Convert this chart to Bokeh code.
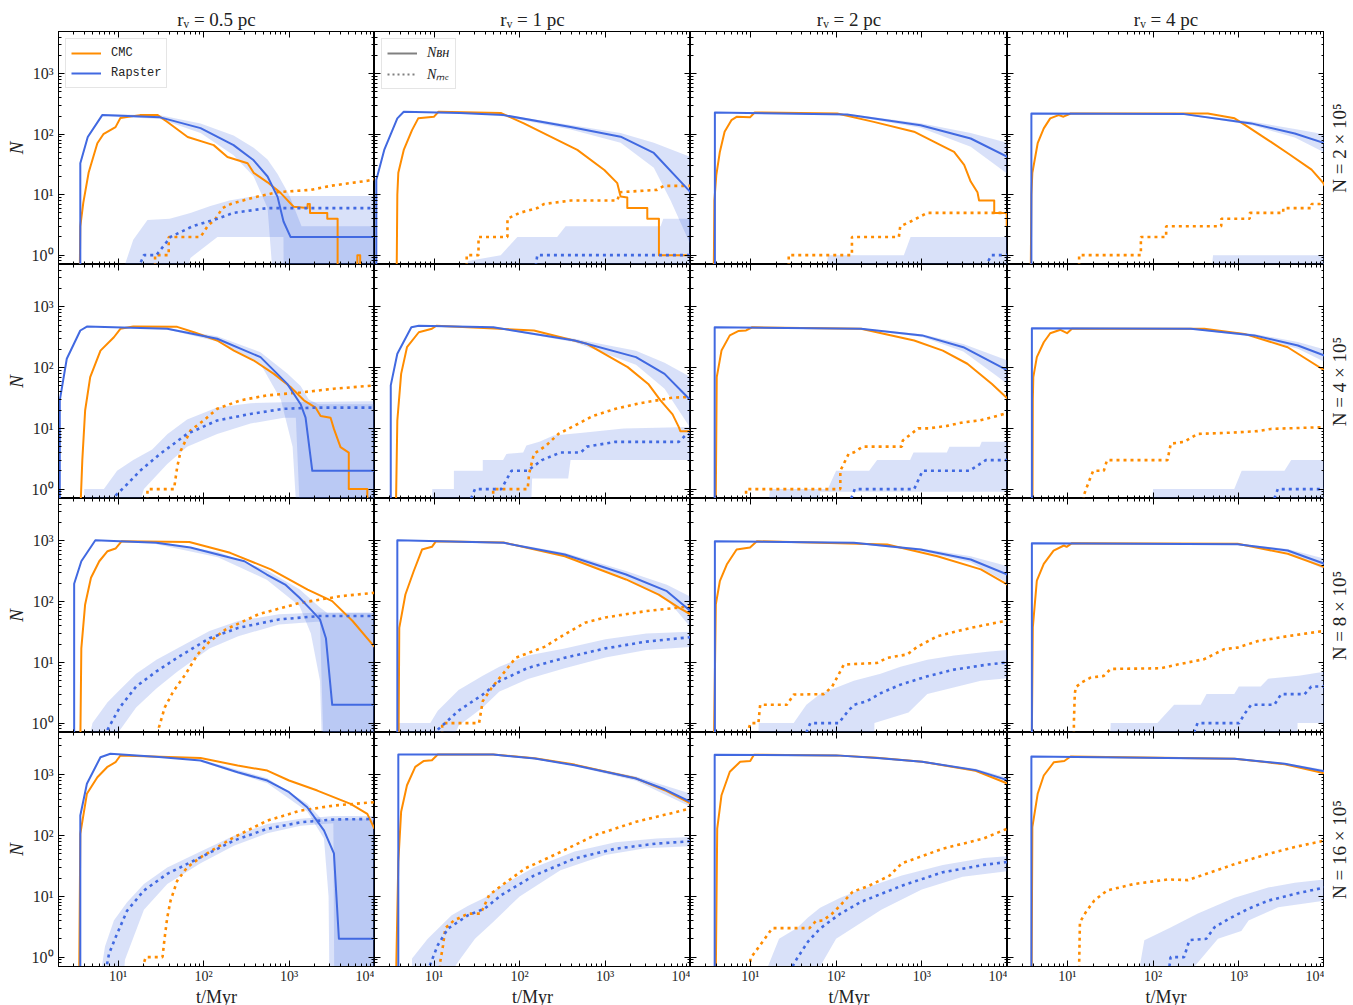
import math
from bokeh.plotting import figure
from bokeh.layouts import gridplot
from bokeh.models import LogAxis, FixedTicker, CustomJSTickFormatter, Legend, LegendItem, Label
from bokeh.embed import file_html
from bokeh.resources import INLINE

ORANGE = "#ff8c00"
BLUE = "#4169e1"
SERIF = "Liberation Serif"

col_rv = ["0.5", "1", "2", "4"]
row_N = ["2", "4", "8", "16"]
X_MAJOR = [10, 100, 1000, 10000]
X_MINOR = [k * 10 ** e for e in range(0, 4) for k in range(2, 10)]
Y_MAJOR = [1, 10, 100, 1000]
Y_MINOR = [k * 10.0 ** e for e in range(-1, 4) for k in range(2, 10) if 0.7 <= k * 10.0 ** e <= 5000]
X_RANGE = (2, 1e4)
Y_RANGE = (0.7, 5000)

# ---------------- data: (t [Myr], N) ----------------
# row 1 : N = 2e5
cmc_bh_11 = [(3.5,0.1),(3.6,3),(3.9,7.3),(4.5,23),(5.7,71),(6.7,100),(9.3,131),(10.6,185),(18,207),(29,207),(38,158),(65,90),(131,66),(190,42),(327,33),(385,23),(560,16),(795,10.7),(1130,6.3),(1640,6),(1650,7),(1750,7),(1760,5),(2800,5),(2800,4),(3700,4),(3700,0.1),(6300,0.1),(6300,1),(6800,1),(6800,0.1)]
cmc_me_11 = [(27,0.1),(27,1),(39,1),(39,2),(92,2),(111,3),(138,4),(166,6),(207,7),(385,9),(733,11),(1790,12),(3060,14),(8300,17),(10000,18)]
rap_bh_11 = [(3.6,0.1),(3.6,33),(4.4,90),(6.5,207),(31,190),(92,126),(224,66),(385,37),(560,20),(733,9.2),(861,3.6),(1040,2),(10000,2)]
rap_me_11 = [(17,0.6),(20,1),(28,1),(41,2),(74,3),(145,4),(224,5),(560,6),(10000,6)]
bh_up_11 = [(3.6,35),(4.4,95),(6.5,215),(31,205),(92,150),(224,95),(385,60),(560,38),(733,22),(1000,10),(1400,3),(10000,3)]
bh_lo_11 = [(3.6,30),(4.4,85),(6.5,200),(31,178),(92,105),(224,45),(385,20),(560,6),(700,0.1),(10000,0.1)]
me_up_11 = [(10.6,0.1),(12,0.7),(15,1.8),(22,3.8),(40,4),(70,5),(120,6.5),(200,8),(400,9.5),(10000,9.5)]
me_lo_11 = [(10.6,0.1),(50,0.1),(70,0.9),(145,2),(860,2),(870,0.1),(10000,0.1)]

cmc_bh_12 = [(3.6,0.1),(3.7,10),(3.8,23),(4.4,55),(5.5,117),(6.5,183),(9.9,194),(11.2,235),(60,225),(112,151),(230,91),(473,55),(980,25.6),(1390,15.5),(1520,9.3),(1820,9),(1820,6),(3120,6),(3120,4),(4270,4),(4270,1),(10000,1)]
cmc_me_12 = [(24,0.1),(24,1),(33,1),(33,2),(72,2),(72,4),(100,5),(161,6),(192,7),(395,8),(1390,8),(1500,11),(4070,12),(4900,14),(10000,14)]
rap_bh_12 = [(2.1,0.1),(2.1,17.5),(2.6,55),(3.7,183),(4.4,235),(20,225),(65,207),(395,132),(1520,91),(3720,49),(10000,11)]
rap_me_12 = [(150,0.5),(161,1),(10000,1)]
bh_up_12 = [(60,215),(395,142),(1520,105),(3720,72),(10000,42)]
bh_lo_12 = [(60,200),(395,120),(1520,72),(3720,28),(5850,8),(10000,1.5)]
me_up_12 = [(14,0.1),(25,0.8),(60,1),(94,2),(275,2),(345,3),(4470,3),(4800,4),(10000,4)]
me_lo_12 = [(14,0.1),(10000,0.1)]

cmc_bh_13 = [(3.7,0.1),(3.8,8),(4,21),(4.4,51),(5,110),(6,171),(6.9,194),(9.9,190),(11.2,229),(103,220),(275,160),(811,110),(1660,66),(2380,51),(3120,31),(3720,16.5),(4460,11),(4660,8),(7000,8),(7000,5),(9800,5),(9800,3),(10000,3)]
cmc_me_13 = [(28,0.1),(28,1),(153,1),(153,2),(540,2),(560,3),(740,3.6),(1160,5),(10000,5)]
rap_bh_13 = [(3.85,0.1),(3.85,229),(134,212),(968,141),(3720,85),(10000,42)]
rap_me_13 = [(5000,0.5),(6500,1),(10000,1)]
bh_up_13 = [(134,218),(968,152),(3720,105),(10000,72)]
bh_lo_13 = [(134,206),(968,128),(3720,62),(10000,22)]
me_up_13 = [(72,0.1),(80,1),(617,1),(740,2),(10000,2)]
me_lo_13 = [(72,0.1),(10000,0.1)]

cmc_bh_14 = [(3.7,0.1),(3.8,10),(3.9,23),(4.5,71),(5.3,125),(6.3,183),(7.9,207),(9,195),(10.9,220),(435,220),(893,183),(1280,132),(2200,80),(3770,48),(7060,26),(9700,15.5),(10000,14)]
cmc_me_14 = [(13.7,0.1),(13.7,1),(72,1),(72,2),(142,2),(142,3),(624,3),(624,4),(1340,4),(1340,5),(3300,5),(3300,6),(7060,6),(7060,7),(10000,7)]
rap_bh_14 = [(3.8,0.1),(3.8,220),(230,215),(1400,151),(4500,103),(10000,71)]
rap_me_14 = []
bh_up_14 = [(230,220),(1400,162),(4500,122),(10000,100)]
bh_lo_14 = [(230,210),(1400,142),(4500,88),(10000,50)]
me_up_14 = [(435,0.1),(500,1),(10000,1)]
me_lo_14 = [(435,0.1),(10000,0.1)]

# row 2 : N = 4e5
cmc_bh_21 = [(3.46,0.1),(3.8,3),(4.1,19.7),(4.7,70),(6.2,191),(8.9,317),(10.6,437),(15,475),(49,470),(77,383),(144,280),(226,191),(387,131),(664,79),(1040,48),(1490,29),(2040,22),(2340,16),(3060,15),(3350,9.8),(4000,4.9),(5000,4),(5000,1),(8240,1),(8240,0.1)]
cmc_me_21 = [(22,0.1),(22,1),(45,1),(49,2.3),(54,4.3),(70,9.2),(100,13.5),(144,21),(270,29),(556,35),(1365,39),(3350,45),(10000,51)]
rap_bh_21 = [(2.07,0.1),(2.07,29),(2.5,140),(3.6,409),(4.3,475),(37.5,437),(144,299),(463,149),(953,54),(1365,25),(1560,15),(1870,2),(10000,2)]
rap_me_21 = [(9.3,0.78),(12.7,1.2),(18,2),(31,3.8),(64,8.1),(144,13.5),(354,17.3),(868,21),(2140,22),(10000,22)]
bh_up_21 = [(37.5,450),(144,330),(463,180),(953,80),(1365,50),(1700,30),(2200,25),(10000,25)]
bh_lo_21 = [(37.5,425),(144,270),(463,115),(800,30),(1100,5),(1300,0.1),(10000,0.1)]
me_up_21 = [(4,0.1),(4,1),(6.8,1),(9.7,2),(15,3),(25,4.5),(37.5,8),(64,14),(144,22),(354,26),(868,27),(10000,28)]
me_lo_21 = [(9,0.1),(12,0.1),(20,1),(37.5,2.6),(64,5),(144,8.1),(354,12),(868,15),(1200,15),(1400,0.1),(10000,0.1)]

cmc_bh_22 = [(3.5,0.1),(3.7,13.5),(4.1,79),(4.8,217),(6.6,383),(9.4,437),(10.6,490),(147,409),(612,247),(1840,102),(3200,54),(4450,29),(6170,17),(7300,10.5),(7600,9),(10000,9)]
cmc_me_22 = [(49,0.1),(49,1),(124,1),(129,1.8),(147,3.8),(204,5.2),(284,8.1),(440,11.1),(721,16),(1325,21),(2560,26),(6170,32),(10000,33)]
rap_bh_22 = [(3.1,0.1),(3.1,51),(3.7,169),(5.4,463),(6.6,490),(49,463),(440,280),(2300,149),(4970,79),(10000,29)]
rap_me_22 = [(27,0.7),(30,1),(61,1),(80,2),(124,2),(182,3),(300,4),(519,4),(612,5),(1325,6),(7300,6),(9000,8),(10000,8)]
bh_up_22 = [(49,475),(440,300),(2300,190),(4970,120),(10000,70)]
bh_lo_22 = [(49,450),(440,262),(2300,112),(4970,45),(10000,10)]
me_up_22 = [(9.4,0.1),(9.5,1),(17,1),(17,2),(37,2),(37,3),(64,3),(70,3.8),(110,4),(120,5.2),(170,6),(250,7.6),(548,8.5),(1650,10),(10000,10.5)]
me_lo_22 = [(9.4,0.1),(131,0.1),(140,1.5),(370,1.5),(395,3),(10000,3)]

cmc_bh_23 = [(3.9,0.1),(4.05,70),(4.6,191),(5.75,340),(7.2,400),(8.9,410),(10.5,463),(195,437),(815,280),(1760,191),(3400,116),(6590,54),(10000,31)]
cmc_me_23 = [(8.9,0.1),(8.9,1),(112,1),(112,2),(140,3.8),(160,4),(205,5),(585,5),(600,6.3),(908,10),(1200,10),(1960,11),(3050,12.6),(4740,13.5),(9200,17.3),(10000,17.5)]
rap_bh_23 = [(3.83,0.1),(3.83,463),(195,437),(1010,340),(3050,217),(10000,90)]
rap_me_23 = [(150,0.7),(165,1),(815,1),(1020,2),(3600,2),(5580,3),(10000,3)]
bh_up_23 = [(195,445),(1010,355),(3050,245),(10000,131)]
bh_lo_23 = [(195,430),(1010,320),(3050,185),(10000,54)]
me_up_23 = [(13.9,0.1),(17,1),(80,1),(100,2),(243,2),(301,3),(730,3),(800,4),(1960,4),(2100,5),(4740,5),(5000,6),(10000,6)]
me_lo_23 = [(13.9,0.1),(60,0.1),(65,0.9),(10000,0.9)]

cmc_bh_24 = [(3.9,0.1),(3.95,30),(4,70),(4.4,149),(5.3,262),(6.3,369),(8.3,420),(9.9,370),(11.3,437),(395,437),(1160,360),(3720,217),(10000,90)]
cmc_me_24 = [(15.5,0.1),(15.5,0.78),(17.7,1.3),(20,2),(26.6,2),(29,3),(147,3),(161,5.6),(230,6),(330,8.1),(811,8.5),(1660,9),(2380,9.8),(10000,10.5)]
rap_bh_24 = [(3.85,0.1),(3.85,446),(275,437),(1520,340),(4890,232),(10000,158)]
rap_me_24 = [(2600,0.7),(2850,1),(10000,1)]
bh_up_24 = [(275,445),(1520,360),(4890,265),(10000,200)]
bh_lo_24 = [(275,430),(1520,322),(4890,205),(10000,125)]
me_up_24 = [(86,0.1),(100,1),(885,1),(1080,2),(3410,2),(4090,3),(10000,3)]
me_lo_24 = [(86,0.1),(10000,0.1)]

# row 3 : N = 8e5
cmc_bh_31 = [(3.56,0.1),(3.7,17),(4.1,90),(4.8,247),(6,463),(7.5,677),(9.3,750),(11,990),(68,960),(204,637),(612,340),(1650,158),(3200,102),(5540,48),(10000,18)]
cmc_me_31 = [(30,0.1),(30,0.85),(35,1.8),(44,3.3),(61,6.3),(85,13.5),(117,22),(182,35),(440,62),(1325,95),(3980,123),(10000,140)]
rap_bh_31 = [(3.05,0.1),(3.05,197),(3.7,463),(5.4,1027),(28,931),(70,780),(147,597),(300,463),(548,280),(900,191),(1325,116),(1800,74),(2300,51),(2700,25),(3200,2),(10000,2)]
rap_me_31 = [(7,0.6),(7.5,0.78),(10.4,1.8),(16.2,4),(28,7.1),(49,11.9),(117,25),(254,37),(764,51),(2300,58),(10000,58)]
bh_up_31 = [(28,980),(147,660),(548,330),(1325,160),(2300,80),(2800,65),(10000,65)]
bh_lo_31 = [(28,880),(147,540),(548,230),(1325,85),(1800,30),(2300,5),(2500,0.1),(10000,0.1)]
me_up_31 = [(3.5,0.1),(5,1),(7.5,2.2),(10.4,3.5),(16.2,6.5),(28,11),(49,17),(117,33),(254,48),(764,62),(2300,66),(10000,66)]
me_lo_31 = [(8,0.1),(10,0.7),(16.2,1.8),(28,3.7),(49,7),(117,17),(254,27),(764,42),(2300,47),(2600,0.1),(10000,0.1)]

cmc_bh_32 = [(3.8,0.1),(3.9,37),(4.6,131),(5.75,317),(7.2,722),(9.4,800),(10.5,990),(65,940),(337,560),(1760,232),(4240,131),(7360,79),(10000,62)]
cmc_me_32 = [(12.4,0.1),(12.4,1),(33.5,1),(37,2.3),(47,3.8),(65,6.7),(90,11.9),(195,18),(337,29),(585,45),(1010,55),(3050,70),(10000,84)]
rap_bh_32 = [(3.7,0.1),(3.7,1027),(65,930),(337,597),(1760,280),(5290,149),(10000,70)]
rap_me_32 = [(11,0.78),(19.3,1.6),(37,2.95),(58,4.9),(125,8.1),(337,11.9),(1010,17),(3050,22),(10000,26)]
bh_up_32 = [(65,960),(337,640),(1760,320),(5290,190),(10000,120)]
bh_lo_32 = [(65,900),(337,560),(1760,245),(5290,110),(10000,38)]
me_up_32 = [(3.7,0.1),(3.8,1),(9,1),(11,1.6),(19.3,3.5),(37,6),(58,8.5),(125,13),(337,17),(1010,24),(3050,30),(10000,32)]
me_lo_32 = [(9.5,0.1),(19.3,0.9),(37,1.8),(58,3.3),(125,5.3),(337,8),(1010,12),(3050,16),(10000,18)]

cmc_bh_33 = [(3.7,0.1),(3.95,90),(4.4,217),(5.3,409),(6.9,722),(9.9,780),(11.9,990),(395,873),(1520,560),(4890,340),(10000,191)]
cmc_me_33 = [(9.5,0.1),(9.5,0.78),(10,1),(12.4,1),(13,2),(26.6,2),(32,2.95),(72,3),(90,4),(107,6.3),(123,9.2),(301,9.8),(395,11.9),(676,13.5),(885,18),(1520,27),(3720,37),(10000,49)]
rap_bh_33 = [(3.85,0.1),(3.85,990),(161,930),(968,722),(3720,495),(10000,280)]
rap_me_33 = [(45,0.7),(50,1),(107,1),(134,1.5),(161,2),(230,2.3),(330,3.1),(565,4.3),(1160,5.9),(2380,7.6),(5850,9.2),(10000,10)]
bh_up_33 = [(161,950),(968,760),(3720,560),(10000,383)]
bh_lo_33 = [(161,910),(968,680),(3720,440),(10000,204)]
me_up_33 = [(12,0.1),(12.5,1),(32,1),(45,2),(65,3),(161,5),(330,6.5),(565,8.5),(1160,11),(2380,13),(5850,15),(10000,16)]
me_lo_33 = [(12,0.1),(275,0.1),(280,1),(700,1.5),(1160,3),(4890,5),(10000,5.5)]

cmc_bh_34 = [(3.8,0.1),(3.95,38),(4.4,223),(5.3,420),(6.9,695),(9.1,841),(9.8,800),(11.3,918),(968,900),(3720,614),(10000,369)]
cmc_me_34 = [(11.9,0.1),(11.9,1),(12.2,3),(12.5,3.9),(14.8,4.7),(18.6,5.6),(26.6,6),(32,7.8),(123,8),(192,9.2),(395,11.3),(676,16.5),(968,17.5),(1660,22.4),(3720,27),(10000,33)]
rap_bh_34 = [(3.85,0.1),(3.85,918),(968,880),(3720,695),(10000,420)]
rap_me_34 = [(300,0.7),(330,1),(1010,1),(1160,1.4),(1390,2),(2600,2),(3120,3),(5850,3),(7000,4),(10000,4)]
bh_up_34 = [(968,900),(3720,740),(10000,510)]
bh_lo_34 = [(968,860),(3720,650),(10000,340)]
me_up_34 = [(30,0.1),(32,1),(112,1),(176,2),(360,2),(420,3),(885,3),(1000,4),(1800,4),(2200,5.4),(5000,6),(10000,7)]
me_lo_34 = [(30,0.1),(4800,0.1),(4850,1),(10000,1)]

# row 4 : N = 16e5
cmc_bh_41 = [(3.46,0.1),(3.6,107),(4.3,489),(5.7,918),(7.4,1340),(9.3,1620),(10.6,2090),(92,1900),(250,1430),(556,1180),(1000,809),(2140,553),(5250,334),(8240,229),(10000,130)]
cmc_me_41 = [(20,0.1),(20,0.8),(21,1),(33,1),(35,2.1),(37.5,4.5),(41,8.5),(49,18),(64,30),(92,44),(226,94),(556,177),(1365,259),(3350,313),(10000,356)]
rap_bh_41 = [(3.6,0.1),(3.6,215),(4.3,714),(6.2,1960),(8.1,2230),(30,1980),(92,1730),(250,1110),(556,809),(1000,519),(1630,294),(2560,122),(3350,51),(3830,2),(10000,2)]
rap_me_41 = [(7.4,0.76),(7.8,1.13),(9.3,2.1),(12.7,5.8),(20,12.5),(37.5,23.5),(92,44),(226,83),(556,130),(1365,166),(3350,185),(10000,188)]
bh_up_41 = [(92,1800),(556,880),(1630,340),(2560,170),(3300,190),(10000,190)]
bh_lo_41 = [(92,1650),(556,730),(1630,250),(2560,90),(2900,10),(3000,0.1),(10000,0.1)]
me_up_41 = [(5.2,0.1),(7,1.5),(8.9,4),(12.7,8),(20,16),(37.5,30),(92,55),(226,100),(556,155),(1365,190),(3350,210),(10000,210)]
me_lo_41 = [(10.6,0.1),(12,0.9),(20,6),(37.5,16),(92,35),(226,68),(556,110),(1365,145),(3300,160),(3400,0.1),(10000,0.1)]

cmc_bh_42 = [(3.5,0.1),(3.8,37),(4.1,247),(4.8,677),(6,1360),(7.5,1690),(9.4,1750),(11,2170),(49,2170),(150,1880),(440,1480),(1000,1140),(2300,880),(5000,560),(10000,340)]
cmc_me_42 = [(11.7,0.1),(11.7,0.8),(12.7,1.57),(13.5,3),(17,4),(25,5.2),(35,5.2),(44,10.5),(61,15),(117,29),(254,48),(764,102),(2300,169),(10000,280)]
rap_bh_42 = [(3.8,0.1),(3.8,2170),(49,2170),(150,1860),(440,1445),(1000,1127),(2300,873),(5000,580),(10000,360)]
rap_me_42 = [(8.9,0.73),(11,1.57),(14.5,2.95),(25,4.9),(39,6.3),(61,10.5),(147,22),(440,42),(1325,61),(3980,74),(10000,81)]
bh_up_42 = [(440,1500),(2300,940),(10000,493)]
bh_lo_42 = [(440,1390),(2300,800),(10000,299)]
me_up_42 = [(5.4,0.1),(5.5,0.95),(8.4,2),(16,4.9),(25,7),(39,9.5),(61,15),(147,30),(440,55),(1325,78),(3980,90),(10000,95)]
me_lo_42 = [(12,0.1),(18,0.75),(30,2),(49,3.8),(100,10),(300,27),(1000,48),(3000,62),(10000,67)]

cmc_bh_43 = [(3.9,0.1),(4.1,131),(4.6,463),(5.75,1127),(7.6,1650),(9.95,1690),(11,2150),(100,2100),(300,1920),(1010,1650),(4250,1170),(10000,722)]
cmc_me_43 = [(10,0.1),(10,0.95),(14.7,2),(18,3),(49,3),(58,3.9),(70,4),(90,5.2),(112,7.1),(156,11.9),(243,15),(421,22),(585,35),(1760,61),(5290,90),(10000,131)]
rap_bh_43 = [(3.83,0.1),(3.83,2150),(100,2100),(300,1900),(1010,1650),(4250,1200),(10000,819)]
rap_me_43 = [(31,0.7),(35,0.95),(47,1.8),(65,2.95),(112,5.2),(195,8.1),(585,15),(1760,25),(5290,33),(10000,37)]
bh_up_43 = [(1010,1700),(4250,1270),(10000,900)]
bh_lo_43 = [(1010,1600),(4250,1130),(10000,740)]
me_up_43 = [(13.9,0.1),(16,0.7),(21.6,2),(35,3),(47,4.5),(65,6.5),(112,9.5),(195,13),(585,22),(1760,33),(5290,43),(10000,46)]
me_lo_43 = [(60,0.1),(65,0.7),(100,2),(337,6),(1000,13),(3000,21),(10000,26)]

cmc_bh_44 = [(3.8,0.1),(3.9,138),(4.5,489),(5.3,979),(6.96,1620),(9.2,1700),(10.9,2010),(893,1845),(3440,1500),(10000,1067)]
cmc_me_44 = [(13.7,0.1),(13.7,0.7),(14,3.75),(16.4,5.5),(20.5,8.5),(29,12.5),(60,16),(148,19),(254,18.5),(364,22),(893,34),(2200,50),(4500,65),(10000,83)]
rap_bh_44 = [(3.8,0.1),(3.8,2010),(893,1845),(3440,1525),(10000,1150)]
rap_me_44 = [(155,0.7),(160,1),(230,1),(265,1.9),(417,2),(521,3.1),(748,4.2),(1280,6.2),(2200,8.5),(4500,11),(10000,14)]
bh_up_44 = [(893,1880),(3440,1580),(10000,1230)]
bh_lo_44 = [(893,1810),(3440,1470),(10000,1080)]
me_up_44 = [(55,0.1),(79,1.9),(162,3.1),(333,5.2),(893,9.5),(2200,14),(4500,16.7),(10000,19)]
me_lo_44 = [(250,0.1),(304,0.7),(571,2),(1070,2.7),(1300,4),(2880,6.6),(10000,8.5)]

# ---------------- layout ----------------
FRAME_W = [316, 316, 317, 317]
FRAME_H = [233, 234, 234, 234]
RIGHT_W = 29

SUP_CODE = """
const s = {"0":"\u2070","1":"\u00b9","2":"\u00b2","3":"\u00b3","4":"\u2074","5":"\u2075","6":"\u2076","7":"\u2077","8":"\u2078","9":"\u2079","-":"\u207b"};
const e = Math.round(Math.log10(tick));
return "10" + String(e).split("").map(c => s[c]).join("");
"""
BLANK_CODE = "return '';"


def xs(pts):
    return [a for a, _ in pts]


def ys(pts):
    return [b for _, b in pts]


def setup_axis(ax, major, minor, show, size="15px", standoff=4):
    ax.ticker = FixedTicker(ticks=major, minor_ticks=minor)
    ax.major_tick_in = 6
    ax.major_tick_out = 0
    ax.minor_tick_in = 3
    ax.minor_tick_out = 0
    ax.major_tick_line_color = "black"
    ax.minor_tick_line_color = "black"
    ax.major_tick_line_width = 1
    ax.minor_tick_line_width = 1
    ax.axis_line_color = "black"
    if show:
        ax.formatter = CustomJSTickFormatter(code=SUP_CODE)
        ax.major_label_text_font = SERIF
        ax.major_label_text_font_size = size
        ax.major_label_text_color = "#262626"
        ax.major_label_standoff = standoff
    else:
        ax.formatter = CustomJSTickFormatter(code=BLANK_CODE)
        ax.major_label_text_font_size = "1px"
        ax.major_label_standoff = 0


rows = []
for i in range(4):
    row = []
    top_b = 31 if i == 0 else 0
    bot_b = 39 if i == 3 else 0
    for j in range(4):
        key = f"{i+1}{j+1}"
        g = globals()
        cmc_bh = g["cmc_bh_" + key]
        cmc_me = g["cmc_me_" + key]
        rap_bh = g["rap_bh_" + key]
        rap_me = g["rap_me_" + key]
        bh_up, bh_lo = g["bh_up_" + key], g["bh_lo_" + key]
        me_up, me_lo = g["me_up_" + key], g["me_lo_" + key]

        kw = {}
        if i == 0:
            kw["title"] = f"r\u1d65 = {col_rv[j]} pc"
        p = figure(x_axis_type="log", y_axis_type="log", x_range=X_RANGE, y_range=Y_RANGE,
                   frame_width=FRAME_W[j], frame_height=FRAME_H[i],
                   output_backend="svg", toolbar_location=None,
                   min_border_left=58 if j == 0 else 0,
                   min_border_right=0,
                   min_border_top=top_b,
                   min_border_bottom=bot_b,
                   background_fill_color="white", border_fill_color="white", **kw)
        p.xgrid.visible = False
        p.ygrid.visible = False
        p.outline_line_color = "black"
        p.outline_line_width = 1
        if i == 0:
            p.title.align = "center"
            p.title.text_font = SERIF
            p.title.text_font_size = "19px"
            p.title.text_font_style = "normal"
            p.title.text_color = "#222222"
            p.title.standoff = 4

        for up, lo in ((bh_up, bh_lo), (me_up, me_lo)):
            if up:
                p.patch(xs(up) + xs(lo)[::-1], ys(up) + ys(lo)[::-1],
                        fill_color=BLUE, fill_alpha=0.2, line_alpha=0)

        r_cmc = p.line(xs(cmc_bh), ys(cmc_bh), line_color=ORANGE, line_width=2, line_join="round")
        p.line(xs(cmc_me), ys(cmc_me), line_color=ORANGE, line_width=2.6, line_dash="3 4")
        r_rap = p.line(xs(rap_bh), ys(rap_bh), line_color=BLUE, line_width=2, line_join="round")
        if rap_me:
            p.line(xs(rap_me), ys(rap_me), line_color=BLUE, line_width=2.6, line_dash="3 4")

        bottom = p.below[0]
        left = p.left[0]
        top = LogAxis()
        right = LogAxis()
        p.add_layout(top, "above")
        p.add_layout(right, "right")
        setup_axis(bottom, X_MAJOR, X_MINOR, i == 3, size="14px", standoff=2)
        setup_axis(top, X_MAJOR, X_MINOR, False)
        setup_axis(left, Y_MAJOR, Y_MINOR, j == 0, size="16px", standoff=5)
        setup_axis(right, Y_MAJOR, Y_MINOR, False)

        if j == 0:
            left.axis_label = "N"
            left.axis_label_text_font = SERIF
            left.axis_label_text_font_style = "italic"
            left.axis_label_text_font_size = "19px"
            left.axis_label_text_color = "#222222"
            left.axis_label_standoff = 2
        if i == 3:
            bottom.axis_label = "t/Myr"
            bottom.axis_label_text_font = SERIF
            bottom.axis_label_text_font_style = "normal"
            bottom.axis_label_text_font_size = "18px"
            bottom.axis_label_text_color = "#222222"
            bottom.axis_label_standoff = 0

        if i == 0 and j == 0:
            leg = Legend(items=[LegendItem(label="CMC", renderers=[r_cmc]),
                                LegendItem(label="Rapster", renderers=[r_rap])],
                         location="top_left")
            leg.label_text_font = "Liberation Mono"
            leg.label_text_font_size = "12px"
            p.add_layout(leg)
        if i == 0 and j == 1:
            d1 = p.line(x=[1e6, 2e6], y=[1e6, 2e6], line_color="#808080", line_width=2)
            d2 = p.line(x=[1e6, 2e6], y=[1e6, 2e6], line_color="#808080", line_width=2.2, line_dash="2 3")
            leg = Legend(items=[LegendItem(label="N\u0299\u029c", renderers=[d1]),
                                LegendItem(label="N\u2098\u2091", renderers=[d2])],
                         location="top_left")
            leg.label_text_font = SERIF
            leg.label_text_font_style = "italic"
            leg.label_text_font_size = "14px"
            p.add_layout(leg)
        if i == 0 and j in (0, 1):
            leg.margin = 7
            leg.padding = 5
            leg.spacing = 2
            leg.glyph_width = 30
            leg.glyph_height = 18
            leg.label_height = 18
            leg.label_standoff = 10
            leg.border_line_color = "#cccccc"
            leg.border_line_width = 1
            leg.background_fill_alpha = 0.85
            leg.label_text_color = "#222222"
        row.append(p)

    # narrow strip on the right holding the row label (reads bottom-to-top)
    q = figure(x_range=(0, 1), y_range=(0, 1), frame_width=RIGHT_W, frame_height=FRAME_H[i],
               output_backend="svg", toolbar_location=None,
               x_axis_location=None, y_axis_location=None,
               min_border_left=0, min_border_right=0, min_border_top=top_b, min_border_bottom=bot_b,
               background_fill_color="white", border_fill_color="white")
    q.xgrid.visible = False
    q.ygrid.visible = False
    q.outline_line_color = None
    q.add_layout(Label(x=0.5, y=0.5, angle=math.pi / 2,
                       text=f"N = {row_N[i]} \u00d7 10\u2075",
                       text_font=SERIF, text_font_size="19px", text_color="#222222",
                       text_align="center", text_baseline="middle"))
    row.append(q)
    rows.append(row)

grid = gridplot(rows, toolbar_location=None)
open("out.html", "w").write(file_html(grid, INLINE))
